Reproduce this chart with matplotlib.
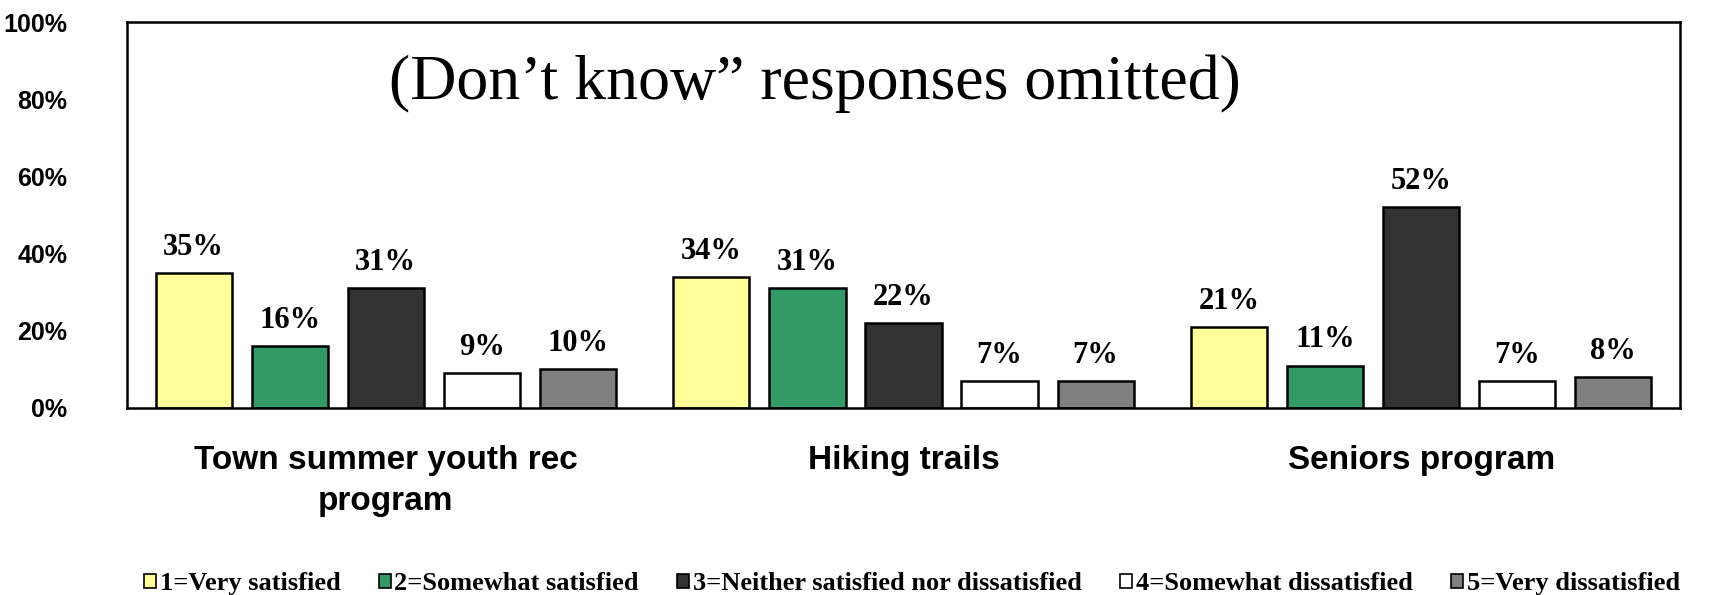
import numpy as np
import matplotlib
matplotlib.use("Agg")
import matplotlib.pyplot as plt
from matplotlib.patches import Patch

# data
categories = ["Town summer youth rec\nprogram", "Hiking trails", "Seniors program"]
series = ["1=Very satisfied", "2=Somewhat satisfied",
          "3=Neither satisfied nor dissatisfied", "4=Somewhat dissatisfied",
          "5=Very dissatisfied"]
very_sat = [35, 34, 21]
somewhat_sat = [16, 31, 11]
neither = [31, 22, 52]
somewhat_dis = [9, 7, 7]
very_dis = [10, 7, 8]
values = [very_sat, somewhat_sat, neither, somewhat_dis, very_dis]
colors = ["#FFFF99", "#339966", "#333333", "#FFFFFF", "#808080"]
yticks = [0, 20, 40, 60, 80, 100]

fig = plt.figure(figsize=(17.11, 5.95), dpi=100)
ax = fig.add_axes([0.0742, 0.3143, 0.9077, 0.6487])

x = np.arange(len(categories))
pitch = 0.1855
width = 0.147
for i, vals in enumerate(values):
    pos = x + (i - 2) * pitch
    ax.bar(pos, vals, width=width, color=colors[i], edgecolor="black",
           linewidth=1.8, zorder=2)
    for p, v in zip(pos, vals):
        ax.annotate(f"{v}%", (p, v), xytext=(0, 8), textcoords="offset points",
                    ha="center", va="bottom", fontsize=22, fontweight="bold",
                    family="Liberation Serif")

ax.set_xlim(-0.5, len(categories) - 0.5)
ax.set_ylim(0, 100)
ax.set_yticks(yticks)
ax.set_yticklabels([f"{t}%" for t in yticks], fontsize=18, fontweight="bold",
                   family="Liberation Sans")
ax.set_xticks(x)
ax.set_xticklabels(categories, fontsize=24, fontweight="bold",
                   family="Liberation Sans", linespacing=1.4)
ax.tick_params(axis="y", length=0, pad=43)
ax.tick_params(axis="x", length=0, pad=27)
for s in ax.spines.values():
    s.set_linewidth(1.8)

ax.text(0.443, 0.84, "(Don\u2019t know\u201d responses omitted)",
        transform=ax.transAxes, ha="center", va="center", fontsize=46,
        family="Liberation Serif")

handles = [Patch(facecolor=c, edgecolor="black", linewidth=1.2) for c in colors]
fig.legend(handles, series, loc="lower center", bbox_to_anchor=(0.533, -0.04),
           ncol=5, frameon=False, handlelength=0.45, handleheight=0.45,
           handletextpad=0.15, columnspacing=1.45,
           prop={"family": "Liberation Serif", "weight": "bold", "size": 19})

fig.savefig("out.png", dpi=100)
